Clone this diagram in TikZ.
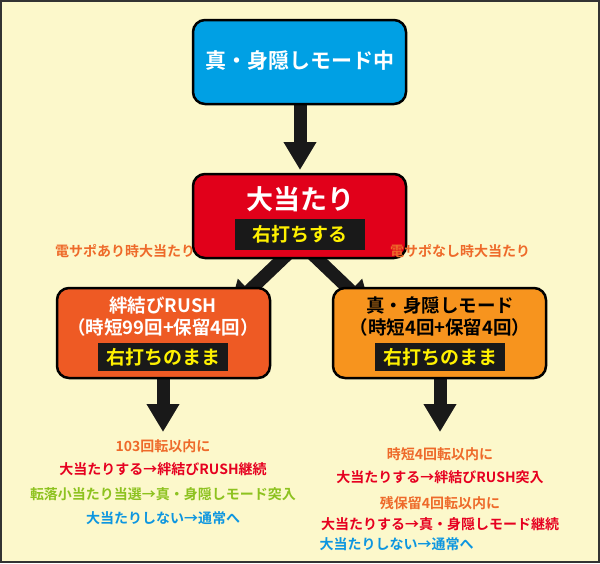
\documentclass[tikz,border=0pt]{standalone}
\usepackage{fontspec}
\setmainfont{Noto Sans CJK JP}[BoldFont={* Bold}]
\newfontfamily\jpb{Noto Sans CJK JP Bold}
\usetikzlibrary{arrows.meta}
\definecolor{bg}{HTML}{FCF8CB}
\definecolor{cblue}{HTML}{00A0E4}
\definecolor{cred}{HTML}{E1001A}
\definecolor{corg}{HTML}{EE5A24}
\definecolor{cyel}{HTML}{F7941E}
\definecolor{tor}{HTML}{EE6A2A}
\definecolor{tred}{HTML}{E60020}
\definecolor{tgreen}{HTML}{8DC21F}
\definecolor{tblue}{HTML}{0D96E0}
\definecolor{ayel}{HTML}{FFF100}
\begin{document}
\begin{tikzpicture}[x=1pt,y=-1pt,
  box/.style={draw=black,line width=2.5pt,rounded corners=12pt},
  bar/.style={inner sep=0pt,text=ayel,font=\jpb\fontsize{19}{19}\selectfont},
  arr/.style={line width=13pt,draw=black!90,-{Triangle[width=31pt,length=28pt]}},
  lab/.style={font=\jpb\fontsize{14}{14}\selectfont,anchor=center},
  bt/.style={font=\jpb\fontsize{18.5}{18.5}\selectfont}]
\fill[bg,draw=black!80,line width=2pt] (1,1) rectangle (599,562);
\useasboundingbox (0,0) rectangle (600,563);
% arrows
\coordinate (a1s) at (300,104); \coordinate (a1e) at (300,170);
\draw[arr] (a1s) -- (a1e);
\coordinate (a2s) at (294,248); \coordinate (a2e) at (229,310);
\coordinate (a3s) at (306,248); \coordinate (a3e) at (371,310);
\draw[arr] (a2s) -- (a2e);
\draw[arr] (a3s) -- (a3e);
\coordinate (a4s) at (163,375); \coordinate (a4e) at (163,432);
\coordinate (a5s) at (440,375); \coordinate (a5e) at (440,432);
\draw[arr] (a4s) -- (a4e);
\draw[arr] (a5s) -- (a5e);
% boxes
\draw[box,fill=cblue] (193,20) rectangle (406,104);
\node[text=white,font=\jpb\fontsize{21}{21}\selectfont] (top) at (300,61) {真・身隠しモード中};
\draw[box,fill=cred] (193,174) rectangle (406,258);
\node[text=white,font=\jpb\fontsize{27}{27}\selectfont] (hit) at (300,199) {大当たり};
\fill[black!90] (235,219) rectangle (365,250);
\node[bar] (hitb) at (300,234.5) {右打ちする};
\draw[box,fill=corg] (57,288) rectangle (270,378);
\node[bt,text=white] (l1) at (163,305) {絆結びRUSH};
\node[bt,text=white] (l2) at (163,327) {（時短99回+保留4回）};
\fill[black!90] (98,343) rectangle (228,371);
\node[bar] (lb) at (163,357) {右打ちのまま};
\draw[box,fill=cyel] (333,288) rectangle (546,378);
\node[bt,text=black] (r1) at (440,305) {真・身隠しモード};
\node[bt,text=black] (r2) at (440,327) {（時短4回+保留4回）};
\fill[black!90] (375,343) rectangle (505,371);
\node[bar] (rb) at (440,357) {右打ちのまま};
% labels
\node[lab,text=tor] (la) at (125,251) {電サポあり時大当たり};
\node[lab,text=tor] (ra) at (460,251) {電サポなし時大当たり};
\node[lab,text=tor] (t1) at (163,446) {103回転以内に};
\node[lab,text=tred] (t2) at (163,469) {大当たりする→絆結びRUSH継続};
\node[lab,text=tgreen] (t3) at (163,494) {転落小当たり当選→真・身隠しモード突入};
\node[lab,text=tblue] (t4) at (163,518) {大当たりしない→通常へ};
\node[lab,text=tor] (u1) at (440,454) {時短4回転以内に};
\node[lab,text=tred] (u2) at (440,477) {大当たりする→絆結びRUSH突入};
\node[lab,text=tor] (u3) at (440,503) {残保留4回転以内に};
\node[lab,text=tred] (u4) at (440,524) {大当たりする→真・身隠しモード継続};
\node[lab,text=tblue,anchor=west] (u5) at (316,544) {大当たりしない→通常へ};
\end{tikzpicture}
\end{document}
